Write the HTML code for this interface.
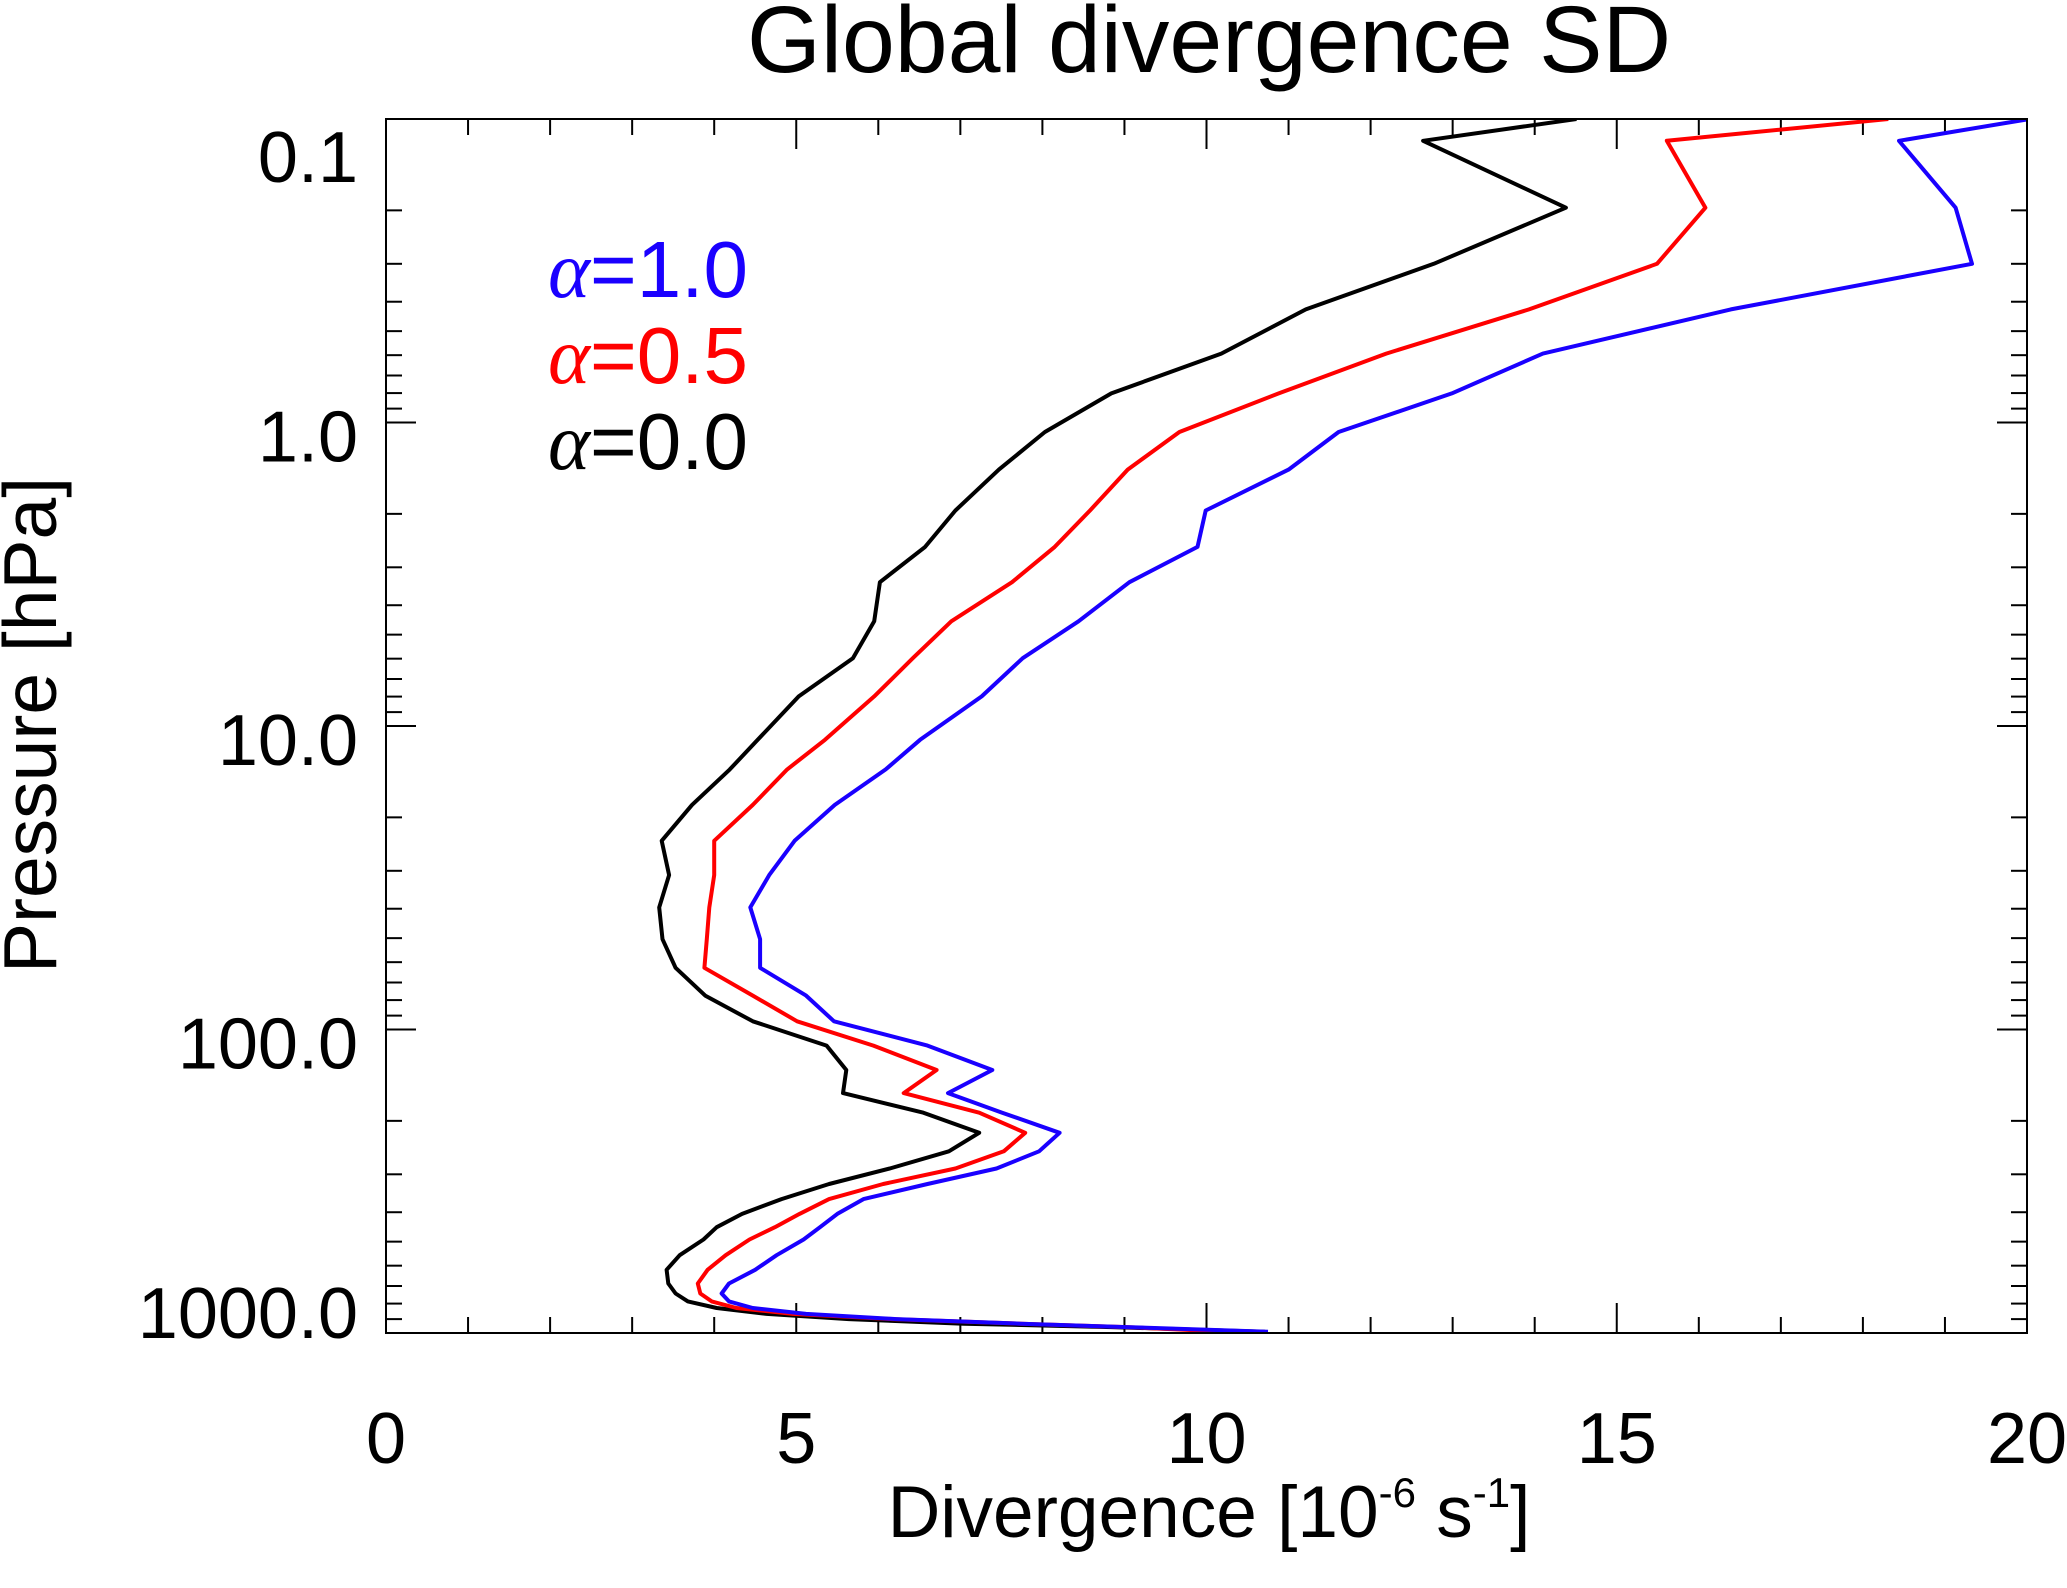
<!DOCTYPE html>
<html><head><meta charset="utf-8"><style>
html,body{margin:0;padding:0;background:#fff;}
svg{display:block;}
text{font-family:"Liberation Sans",sans-serif;}
</style></head><body>
<svg id="chart" width="2067" height="1588" viewBox="0 0 2067 1588" xmlns="http://www.w3.org/2000/svg">
<text x="1209" y="72" font-size="95" text-anchor="middle">Global divergence SD</text>
<text x="1209" y="1537" font-size="73" text-anchor="middle">Divergence [10<tspan font-size="42" dy="-30">-6</tspan><tspan dy="30"> s</tspan><tspan font-size="42" dy="-30">-1</tspan><tspan dy="30">]</tspan></text>
<text transform="translate(56,725) rotate(-90)" font-size="75" text-anchor="middle">Pressure [hPa]</text>
<g id="legend">
<text x="548" y="297" font-size="80" fill="#1a00ff"><tspan font-family="Liberation Serif,serif" font-style="italic">α</tspan>=1.0</text>
<text x="548" y="383" font-size="80" fill="#ff0000"><tspan font-family="Liberation Serif,serif" font-style="italic">α</tspan>=0.5</text>
<text x="548" y="469" font-size="80" fill="#000"><tspan font-family="Liberation Serif,serif" font-style="italic">α</tspan>=0.0</text>
</g>
<defs><clipPath id="plotclip"><rect x="386" y="119" width="1641" height="1214"/></clipPath></defs>
<g id="axes"></g>
<g id="series" clip-path="url(#plotclip)"></g>
<rect x="386" y="119" width="1641" height="1214" fill="none" stroke="#000" stroke-width="2"/>
</svg>
<script>
const pressureLevels = [0.1,0.118,0.196,0.300,0.424,0.593,0.802,1.075,1.43,1.95,2.57,3.36,4.52,5.98,7.99,11.1,13.9,18.2,23.9,31.0,39.6,50.4,62.6,77.3,94.0,113,136,162,188,219,252,287,323,362,405,448,492,554,619,687,741,787,827,865,900,932,956,990];
const alpha00 = [14.51,12.64,14.38,12.77,11.21,10.18,8.84,8.03,7.47,6.94,6.57,6.02,5.95,5.69,5.03,4.53,4.19,3.73,3.36,3.45,3.33,3.37,3.53,3.89,4.47,5.37,5.61,5.57,6.55,7.23,6.86,6.14,5.40,4.82,4.34,4.03,3.87,3.58,3.42,3.44,3.53,3.68,4.03,4.64,5.64,7.04,8.84,10.71];
const alpha05 = [18.31,15.61,16.08,15.49,13.93,12.19,10.88,9.67,9.04,8.58,8.15,7.63,6.89,6.42,5.95,5.35,4.89,4.47,4.00,4.00,3.94,3.91,3.88,4.47,5.01,5.94,6.71,6.31,7.23,7.79,7.53,6.94,6.06,5.40,5.04,4.74,4.43,4.14,3.92,3.80,3.83,3.97,4.27,4.96,6.17,7.74,9.03,10.25];
const alpha10 = [20.03,18.44,19.13,19.33,16.39,14.10,12.99,11.61,11.00,9.99,9.89,9.06,8.44,7.76,7.26,6.51,6.09,5.47,4.98,4.67,4.44,4.56,4.56,5.12,5.46,6.60,7.39,6.85,7.51,8.21,7.96,7.44,6.60,5.82,5.50,5.29,5.09,4.76,4.50,4.18,4.09,4.18,4.47,5.12,6.22,7.74,9.03,10.75];
const xTicks = [0,5,10,15,20];
const xTickLabels = ["0","5","10","15","20"];
const yTicks = [0.1,1,10,100,1000];
const yTickLabels = ["0.1","1.0","10.0","100.0","1000.0"];

const NS="http://www.w3.org/2000/svg";
const L=386,R=2027,T=119,B=1333;
const xScale=v=>L+(v-0)/(20-0)*(R-L);
const yScale=p=>T+(Math.log10(p)-Math.log10(0.1))/(Math.log10(1000)-Math.log10(0.1))*(B-T);
const axes=document.getElementById('axes');
function mk(tag,attrs,parent){const e=document.createElementNS(NS,tag);for(const k in attrs)e.setAttribute(k,attrs[k]);parent.appendChild(e);return e;}

for(let v=0;v<=20;v++){
  const x=xScale(v);const len=(v%5===0)?30:16;
  const t1=mk('line',{x1:x,x2:x,y1:B,y2:B-len,stroke:'#000','stroke-width':2},axes);
  
  
  const t2=mk('line',{x1:x,x2:x,y1:T,y2:T+len,stroke:'#000','stroke-width':2},axes);
  
  
}
xTicks.forEach((v,i)=>{
  const t=mk('text',{x:xScale(v),y:1463,'font-size':72,'text-anchor':'middle'},axes);
  t.textContent=xTickLabels[i];
  
  
});
for(let d=0.1;d<1000;d*=10){
  for(let m=1;m<=10;m++){
    const p=d*m;const y=yScale(p);const len=(m===1||m===10)?30:16;
    const a=mk('line',{x1:L,x2:L+len,y1:y,y2:y,stroke:'#000','stroke-width':2},axes);
    
    
    const b=mk('line',{x1:R,x2:R-len,y1:y,y2:y,stroke:'#000','stroke-width':2},axes);
    
    
  }
}
const labelShift=[37,13,13,13,-21];
yTicks.forEach((p,i)=>{
  const t=mk('text',{x:358,y:yScale(p)+labelShift[i]+26,'font-size':72,'text-anchor':'end'},axes);
  t.textContent=yTickLabels[i];
  
  
});
const seriesG=document.getElementById('series');
function drawLine(vals,color,name){
  const pts=vals.map((v,i)=>xScale(v).toFixed(1)+','+yScale(pressureLevels[i]).toFixed(1)).join(' ');
  const pl=mk('polyline',{points:pts,fill:'none',stroke:color,'stroke-width':4,'stroke-linejoin':'round'},seriesG);
  
  
}
drawLine(alpha00,'#000000','line-alpha-0.0');
drawLine(alpha05,'#ff0000','line-alpha-0.5');
drawLine(alpha10,'#1a00ff','line-alpha-1.0');
</script>
</body></html>
